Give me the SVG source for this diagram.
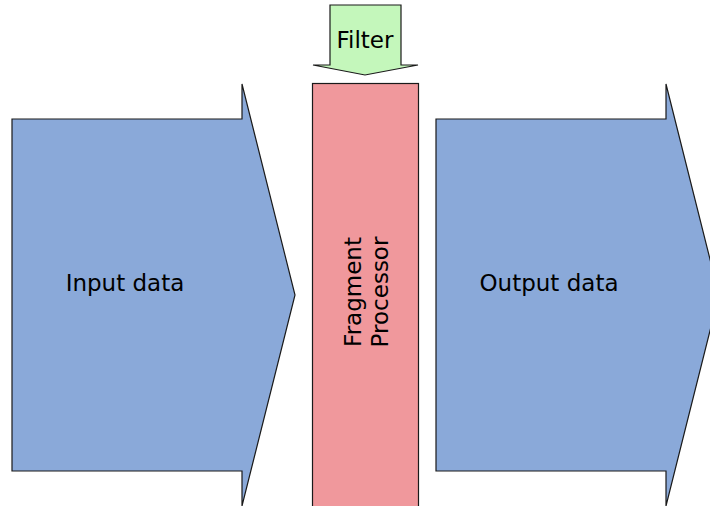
<svg xmlns="http://www.w3.org/2000/svg" width="710" height="506" viewBox="0 0 710 506">
<style>
.shape{stroke:#1a1a1a;stroke-width:1.2;stroke-linejoin:miter}
.blue{fill:#8aa9d9}
.pink{fill:#f0989c}
.green{fill:#c4f7bb}
text{font-family:"DejaVu Sans",Verdana,sans-serif;font-size:23px;fill:#000}
</style>
<rect width="710" height="506" fill="#fff"/>
<g id="input">
<polygon class="shape blue" points="12,119 242,119 242,84 295,295 242,506 242,471 12,471"/>
<text x="125" y="291" text-anchor="middle">Input data</text>
</g>
<g id="fragment-processor">
<rect class="shape pink" x="312.5" y="83.5" width="106" height="430"/>
<text transform="translate(361,292) rotate(-90)" text-anchor="middle">Fragment</text>
<text transform="translate(388,292) rotate(-90)" text-anchor="middle">Processor</text>
</g>
<g id="filter">
<polygon class="shape green" points="330,5 401,5 401,65 418,65 365,75 313,65 330,65"/>
<text x="365" y="48" text-anchor="middle">Filter</text>
</g>
<g id="output">
<polygon class="shape blue" points="436,119 666,119 666,84 719,295 666,506 666,471 436,471"/>
<text x="549" y="291" text-anchor="middle">Output data</text>
</g>
<g id="connectors"></g>
</svg>
